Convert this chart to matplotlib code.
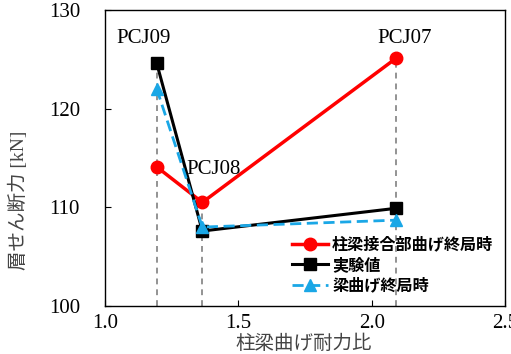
import matplotlib
matplotlib.use("Agg")
import matplotlib.pyplot as plt

x_vals = [1.194, 1.365, 2.091]
labels = ["PCJ09", "PCJ08", "PCJ07"]
joint = [114.1, 110.5, 125.1]      # 柱梁接合部曲げ終局時
exp = [124.6, 107.6, 109.9]        # 実験値
beam = [122.0, 108.0, 108.7]       # 梁曲げ終局時

serif = ["Liberation Serif", "DejaVu Serif"]
mixed = ["Liberation Serif", "Noto Sans CJK JP"]
cjk = ["Noto Sans CJK JP", "DejaVu Sans"]

W, H = 511, 354
fig = plt.figure(figsize=(W/100, H/100), dpi=100)
ax = fig.add_axes([105/W, 1-306/H, 400/W, 296/H])

for xv, a, b, c in zip(x_vals, joint, exp, beam):
    top = max(a, b, c)
    ax.plot([xv, xv], [100, top], color="#808080", lw=1.2, ls=(0, (3.5, 3)), zorder=1)

ax.plot(x_vals, joint, color="#ff0000", lw=2.5, marker="o", ms=9, label="柱梁接合部曲げ終局時", zorder=3)
ax.plot(x_vals, exp, color="black", lw=2.2, marker="s", ms=9, label="実験値", zorder=4)
ax.plot(x_vals, beam, color="#1aa7e6", lw=2.0, ls=(0, (4, 2)), marker="^", ms=8, label="梁曲げ終局時", zorder=5)

ax.text(1.146, 127.15, labels[0], family=serif, fontsize=15, ha="center", va="center")
ax.text(1.406, 113.85, labels[1], family=serif, fontsize=15, ha="center", va="center")
ax.text(2.125, 127.15, labels[2], family=serif, fontsize=15, ha="center", va="center")

ax.set_xlim(1.0, 2.5)
ax.set_ylim(100, 130)
ax.set_xticks([1.0, 1.5, 2.0, 2.5])
ax.set_xticklabels(["1.0", "1.5", "2.0", "2.5"])
ax.set_yticks([100, 110, 120, 130])
ax.tick_params(direction="in", length=4, labelsize=15)
ax.tick_params(axis="y", pad=18)
ax.tick_params(axis="x", pad=6)
for t in ax.get_xticklabels() + ax.get_yticklabels():
    t.set_family(serif)
for s in ax.spines.values():
    s.set_linewidth(1.0)

ax.set_xlabel("柱梁曲げ耐力比", family=cjk, fontsize=14, color="#444444")
ax.xaxis.set_label_coords(199/400, -(333-306)/296)
ax.set_ylabel("層せん断力 [kN]", family=mixed, fontsize=14, color="#444444")
ax.yaxis.set_label_coords(-(105-28)/400, (306-200)/296)

leg = ax.legend(loc="center left", bbox_to_anchor=(292/W, 1-265/H),
                bbox_transform=fig.transFigure, frameon=False,
                prop={"family": cjk, "size": 11.6, "weight": "bold"},
                handlelength=2.24, labelspacing=0.28, handletextpad=0.25,
                borderpad=0, borderaxespad=0)

fig.savefig("out.png", dpi=100)
